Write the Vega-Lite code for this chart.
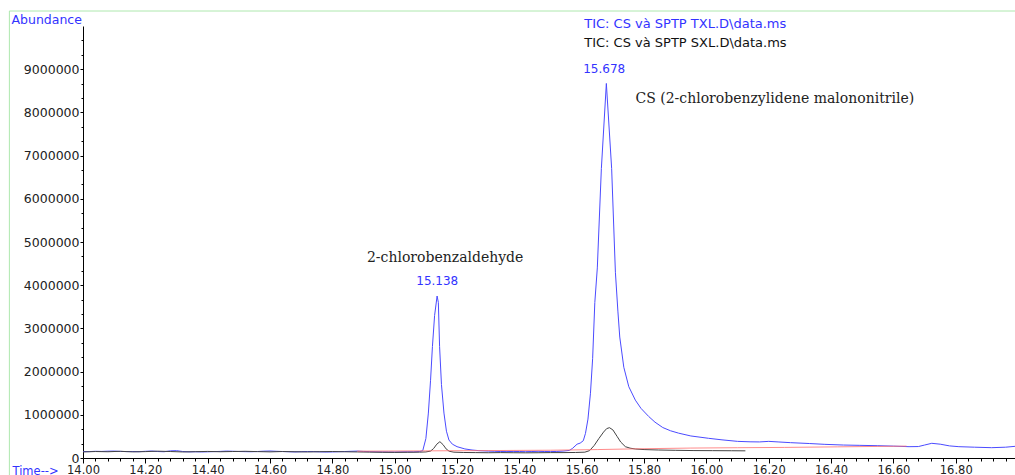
{
  "$schema": "https://vega.github.io/schema/vega-lite/v6.json",
  "width": 932,
  "height": 432,
  "autosize": "none",
  "padding": {"left": 83, "top": 26, "right": 0, "bottom": 17},
  "background": "white",
  "config": {"view": {"stroke": null}, "font": "DejaVu Sans"},
  "resolve": {"axis": {"x": "independent", "y": "independent"}},
  "datasets": {
    "txl": [
      {"t":14.00,"a":150000},{"t":14.02,"a":148000},{"t":14.04,"a":155000},{"t":14.06,"a":152000},{"t":14.08,"a":158000},{"t":14.10,"a":160000},{"t":14.12,"a":152000},{"t":14.14,"a":148000},{"t":14.16,"a":150000},{"t":14.18,"a":146000},{"t":14.20,"a":155000},{"t":14.22,"a":162000},{"t":14.24,"a":150000},{"t":14.26,"a":145000},{"t":14.28,"a":165000},{"t":14.30,"a":170000},{"t":14.32,"a":150000},{"t":14.34,"a":142000},{"t":14.36,"a":145000},{"t":14.38,"a":140000},{"t":14.40,"a":143000},{"t":14.42,"a":148000},{"t":14.44,"a":152000},{"t":14.46,"a":160000},{"t":14.48,"a":156000},{"t":14.50,"a":150000},{"t":14.52,"a":147000},{"t":14.54,"a":145000},{"t":14.56,"a":150000},{"t":14.58,"a":158000},{"t":14.60,"a":162000},{"t":14.62,"a":155000},{"t":14.64,"a":150000},{"t":14.66,"a":145000},{"t":14.68,"a":140000},{"t":14.70,"a":146000},{"t":14.72,"a":150000},{"t":14.74,"a":148000},{"t":14.76,"a":142000},{"t":14.78,"a":138000},{"t":14.80,"a":140000},{"t":14.82,"a":145000},{"t":14.84,"a":150000},{"t":14.86,"a":155000},{"t":14.88,"a":160000},{"t":14.90,"a":152000},{"t":14.92,"a":148000},{"t":14.94,"a":145000},{"t":14.96,"a":142000},{"t":14.98,"a":140000},{"t":15.00,"a":138000},{"t":15.02,"a":142000},{"t":15.04,"a":145000},{"t":15.06,"a":143000},{"t":15.08,"a":150000},
      {"t":15.09,"a":170000},{"t":15.10,"a":450000},{"t":15.108,"a":1040000},{"t":15.115,"a":1800000},{"t":15.121,"a":2580000},{"t":15.128,"a":3300000},{"t":15.136,"a":3750000},{"t":15.140,"a":3600000},{"t":15.144,"a":2580000},{"t":15.150,"a":1700000},{"t":15.158,"a":1040000},{"t":15.166,"a":620000},{"t":15.174,"a":416000},{"t":15.185,"a":320000},{"t":15.20,"a":262000},{"t":15.225,"a":210000},{"t":15.248,"a":185000},{"t":15.27,"a":170000},{"t":15.30,"a":160000},{"t":15.32,"a":155000},{"t":15.34,"a":150000},{"t":15.36,"a":148000},{"t":15.38,"a":152000},{"t":15.40,"a":150000},{"t":15.42,"a":146000},{"t":15.44,"a":150000},{"t":15.46,"a":155000},{"t":15.48,"a":150000},{"t":15.50,"a":148000},{"t":15.52,"a":152000},{"t":15.54,"a":160000},{"t":15.56,"a":175000},{"t":15.57,"a":220000},{"t":15.585,"a":320000},{"t":15.595,"a":345000},{"t":15.605,"a":400000},{"t":15.612,"a":570000},{"t":15.62,"a":900000},{"t":15.628,"a":1500000},{"t":15.635,"a":2300000},{"t":15.642,"a":3600000},{"t":15.65,"a":4400000},{"t":15.663,"a":6700000},{"t":15.679,"a":8670000},{"t":15.696,"a":6700000},{"t":15.708,"a":4300000},{"t":15.716,"a":3400000},{"t":15.722,"a":2800000},{"t":15.735,"a":2100000},{"t":15.751,"a":1650000},{"t":15.772,"a":1340000},{"t":15.79,"a":1150000},{"t":15.815,"a":960000},{"t":15.835,"a":830000},{"t":15.86,"a":705000},{"t":15.885,"a":630000},{"t":15.911,"a":575000},{"t":15.95,"a":510000},{"t":16.007,"a":456000},{"t":16.05,"a":420000},{"t":16.10,"a":385000},{"t":16.14,"a":375000},{"t":16.17,"a":372000},{"t":16.20,"a":385000},{"t":16.23,"a":372000},{"t":16.27,"a":355000},{"t":16.33,"a":335000},{"t":16.38,"a":316000},{"t":16.44,"a":300000},{"t":16.49,"a":293000},{"t":16.55,"a":285000},{"t":16.60,"a":275000},{"t":16.65,"a":262000},{"t":16.68,"a":265000},{"t":16.70,"a":300000},{"t":16.723,"a":340000},{"t":16.75,"a":320000},{"t":16.78,"a":280000},{"t":16.81,"a":262000},{"t":16.86,"a":250000},{"t":16.915,"a":239000},{"t":16.96,"a":250000},{"t":16.99,"a":270000}
    ],
    "sxl": [
      {"t":14.00,"a":140000},{"t":14.04,"a":150000},{"t":14.08,"a":145000},{"t":14.12,"a":155000},{"t":14.16,"a":142000},{"t":14.20,"a":148000},{"t":14.24,"a":158000},{"t":14.28,"a":150000},{"t":14.32,"a":140000},{"t":14.36,"a":146000},{"t":14.40,"a":152000},{"t":14.44,"a":145000},{"t":14.48,"a":150000},{"t":14.52,"a":155000},{"t":14.56,"a":148000},{"t":14.60,"a":142000},{"t":14.64,"a":150000},{"t":14.68,"a":145000},{"t":14.72,"a":140000},{"t":14.76,"a":146000},{"t":14.80,"a":150000},{"t":14.84,"a":144000},{"t":14.88,"a":140000},{"t":14.92,"a":136000},{"t":14.96,"a":132000},{"t":15.00,"a":130000},{"t":15.04,"a":132000},{"t":15.08,"a":135000},{"t":15.10,"a":140000},{"t":15.115,"a":160000},{"t":15.125,"a":220000},{"t":15.135,"a":320000},{"t":15.145,"a":378000},{"t":15.155,"a":310000},{"t":15.165,"a":210000},{"t":15.175,"a":155000},{"t":15.19,"a":135000},{"t":15.22,"a":128000},{"t":15.26,"a":125000},{"t":15.30,"a":122000},{"t":15.34,"a":125000},{"t":15.38,"a":122000},{"t":15.42,"a":120000},{"t":15.46,"a":122000},{"t":15.50,"a":125000},{"t":15.54,"a":125000},{"t":15.58,"a":128000},{"t":15.61,"a":135000},{"t":15.625,"a":170000},{"t":15.64,"a":290000},{"t":15.655,"a":450000},{"t":15.67,"a":600000},{"t":15.68,"a":680000},{"t":15.689,"a":702000},{"t":15.70,"a":650000},{"t":15.714,"a":494000},{"t":15.725,"a":370000},{"t":15.74,"a":262000},{"t":15.755,"a":228000},{"t":15.772,"a":208000},{"t":15.80,"a":195000},{"t":15.847,"a":185000},{"t":15.90,"a":178000},{"t":15.96,"a":172000},{"t":16.02,"a":170000},{"t":16.08,"a":168000},{"t":16.125,"a":166000}
    ],
    "third": [
      {"t":14.88,"a":158000},{"t":15.10,"a":165000},{"t":15.30,"a":172000},{"t":15.50,"a":180000},{"t":15.65,"a":195000},{"t":15.80,"a":215000},{"t":15.95,"a":230000},{"t":16.10,"a":238000},{"t":16.25,"a":245000},{"t":16.42,"a":258000},{"t":16.55,"a":268000},{"t":16.642,"a":275000}
    ],
    "notes": [
      {"kind":"legend1","t":15.608,"a":10046000,"text":"TIC: CS và SPTP TXL.D\\data.ms"},
      {"kind":"legend2","t":15.608,"a":9606000,"text":"TIC: CS và SPTP SXL.D\\data.ms"},
      {"kind":"peak","t":15.672,"a":9000000,"text":"15.678"},
      {"kind":"peak","t":15.1365,"a":4086000,"text":"15.138"},
      {"kind":"compound","t":14.911,"a":4544000,"text":"2-chlorobenzaldehyde"},
      {"kind":"compound","t":15.7724,"a":8225000,"text":"CS (2-chlorobenzylidene malononitrile)"}
    ]
  },
  "layer": [
    {
      "data": {"name": "txl"},
      "mark": {"type": "line", "color": "#4b4bff", "strokeWidth": 1},
      "encoding": {
        "x": {
          "field": "t", "type": "quantitative",
          "scale": {"domain": [14, 16.99], "nice": false, "zero": false},
          "axis": {
            "orient": "bottom",
            "values": [14.0,14.2,14.4,14.6,14.8,15.0,15.2,15.4,15.6,15.8,16.0,16.2,16.4,16.6,16.8],
            "format": ".2f",
            "tickSize": 5, "tickColor": "#000", "domainColor": "#000", "grid": false,
            "labelFont": "DejaVu Sans", "labelFontSize": 11.5, "labelColor": "#222", "labelPadding": 1,
            "labelFlush": false, "labelOverlap": false,
            "title": "Time-->", "titleColor": "#3333ff", "titleFont": "DejaVu Sans", "titleFontSize": 11.5, "titleFontWeight": "normal",
            "titleX": -71, "titleY": 16, "titleAlign": "left", "titleAnchor": "start", "titleBaseline": "alphabetic"
          }
        },
        "y": {
          "field": "a", "type": "quantitative",
          "scale": {"domain": [0, 10000000], "nice": false},
          "axis": {
            "orient": "left",
            "values": [0,1000000,2000000,3000000,4000000,5000000,6000000,7000000,8000000,9000000],
            "format": "d",
            "tickSize": 3, "tickColor": "#000", "domainColor": "#000", "grid": false,
            "labelFont": "DejaVu Sans", "labelFontSize": 12.5, "labelColor": "#222", "labelPadding": 1,
            "labelFlush": false, "labelOverlap": false,
            "title": "Abundance", "titleColor": "#3333ff", "titleFont": "DejaVu Sans", "titleFontSize": 12.5, "titleFontWeight": "normal",
            "titleAngle": 0, "titleX": -72, "titleY": -3, "titleAlign": "left", "titleAnchor": "start", "titleBaseline": "alphabetic"
          }
        }
      }
    },
    {
      "data": {"name": "sxl"},
      "mark": {"type": "line", "color": "#444444", "strokeWidth": 1},
      "encoding": {
        "x": {
          "field": "t", "type": "quantitative",
          "scale": {"domain": [14, 16.99], "nice": false, "zero": false},
          "axis": {
            "orient": "bottom",
            "values": [14.04,14.08,14.12,14.16,14.24,14.28,14.32,14.36,14.44,14.48,14.52,14.56,14.64,14.68,14.72,14.76,14.84,14.88,14.92,14.96,15.04,15.08,15.12,15.16,15.24,15.28,15.32,15.36,15.44,15.48,15.52,15.56,15.64,15.68,15.72,15.76,15.84,15.88,15.92,15.96,16.04,16.08,16.12,16.16,16.24,16.28,16.32,16.36,16.44,16.48,16.52,16.56,16.64,16.68,16.72,16.76,16.84,16.88,16.92,16.96],
            "labels": false, "domain": false, "grid": false, "title": null,
            "tickSize": 3, "tickColor": "#000"
          }
        },
        "y": {
          "field": "a", "type": "quantitative",
          "scale": {"domain": [0, 10000000], "nice": false},
          "axis": {
            "orient": "left",
            "values": [333333,666667,1333333,1666667,2333333,2666667,3333333,3666667,4333333,4666667,5333333,5666667,6333333,6666667,7333333,7666667,8333333,8666667,9333333,9666667],
            "labels": false, "domain": false, "grid": false, "title": null,
            "tickSize": 2, "tickColor": "#000"
          }
        }
      }
    },
    {
      "data": {"name": "third"},
      "mark": {"type": "line", "color": "#ff6f6f", "strokeWidth": 1, "opacity": 0.8},
      "encoding": {
        "x": {"field": "t", "type": "quantitative", "axis": null},
        "y": {"field": "a", "type": "quantitative", "axis": null}
      }
    },
    {
      "data": {"name": "notes"},
      "transform": [{"filter": "datum.kind == 'legend1'"}],
      "mark": {"type": "text", "align": "left", "baseline": "middle", "font": "DejaVu Sans", "fontSize": 13, "color": "#3333ff"},
      "encoding": {
        "x": {"field": "t", "type": "quantitative", "axis": null},
        "y": {"field": "a", "type": "quantitative", "axis": null},
        "text": {"field": "text"}
      }
    },
    {
      "data": {"name": "notes"},
      "transform": [{"filter": "datum.kind == 'legend2'"}],
      "mark": {"type": "text", "align": "left", "baseline": "middle", "font": "DejaVu Sans", "fontSize": 13, "color": "#111111"},
      "encoding": {
        "x": {"field": "t", "type": "quantitative", "axis": null},
        "y": {"field": "a", "type": "quantitative", "axis": null},
        "text": {"field": "text"}
      }
    },
    {
      "data": {"name": "notes"},
      "transform": [{"filter": "datum.kind == 'peak'"}],
      "mark": {"type": "text", "align": "center", "baseline": "middle", "font": "DejaVu Sans", "fontSize": 12, "color": "#3333ff"},
      "encoding": {
        "x": {"field": "t", "type": "quantitative", "axis": null},
        "y": {"field": "a", "type": "quantitative", "axis": null},
        "text": {"field": "text"}
      }
    },
    {
      "data": {"name": "notes"},
      "transform": [{"filter": "datum.kind == 'compound'"}],
      "mark": {"type": "text", "align": "left", "baseline": "alphabetic", "font": "DejaVu Serif", "fontSize": 14, "color": "#222222"},
      "encoding": {
        "x": {"field": "t", "type": "quantitative", "axis": null},
        "y": {"field": "a", "type": "quantitative", "axis": null},
        "text": {"field": "text"}
      }
    },
    {
      "data": {"values": [{}]},
      "mark": {"type": "rule", "color": "#aee8ae", "strokeWidth": 1},
      "encoding": {
        "x": {"datum": 13.7638, "type": "quantitative", "axis": null},
        "y": {"datum": 10347000, "type": "quantitative", "axis": null},
        "y2": {"datum": -500000}
      }
    },
    {
      "data": {"values": [{}]},
      "mark": {"type": "rule", "color": "#aee8ae", "strokeWidth": 1},
      "encoding": {
        "x": {"datum": 13.7638, "type": "quantitative", "axis": null},
        "x2": {"datum": 17.1},
        "y": {"datum": 10347000, "type": "quantitative", "axis": null}
      }
    }
  ]
}
